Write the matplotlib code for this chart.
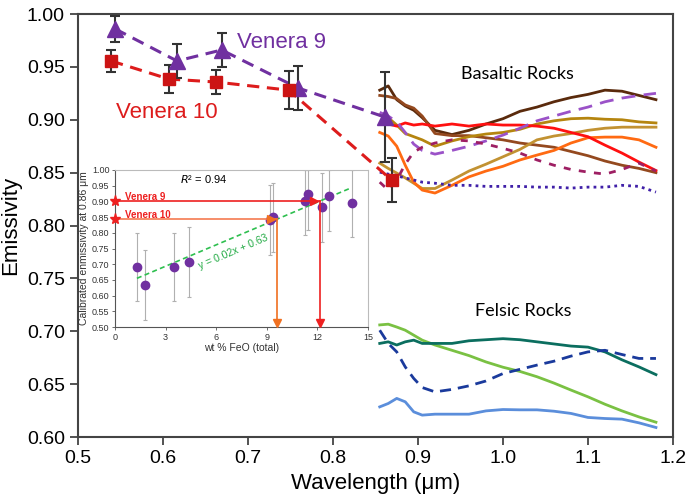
import matplotlib
matplotlib.use('Agg')
import matplotlib.pyplot as plt

plt.rcParams['font.family'] = ['Liberation Sans', 'DejaVu Sans']

# venera measurements
v9_wl = [0.5435, 0.6165, 0.669, 0.759, 0.861]
v9_em = [0.986, 0.9556, 0.966, 0.930, 0.9026]
v9_err = [0.012, 0.016, 0.016, 0.021, 0.043]
v10_wl = [0.539, 0.607, 0.662, 0.748, 0.869]
v10_em = [0.9556, 0.9385, 0.9357, 0.928, 0.843]
v10_err = [0.010, 0.013, 0.011, 0.018, 0.021]

# lab spectra (read at these wavelengths)
wl = [0.855, 0.865, 0.875, 0.885, 0.895, 0.905, 0.92, 0.94, 0.96, 0.98,
      1.00, 1.02, 1.04, 1.06, 1.08, 1.10, 1.12, 1.14, 1.16, 1.18]

dark_brown = [0.928, 0.932, 0.919, 0.913, 0.909, 0.902, 0.890, 0.886, 0.890, 0.896,
              0.901, 0.908, 0.912, 0.917, 0.921, 0.924, 0.928, 0.927, 0.923, 0.919]
sienna = [0.923, 0.922, 0.920, 0.914, 0.911, 0.9035, 0.887, 0.885, 0.885, 0.883,
          0.881, 0.878, 0.876, 0.874, 0.870, 0.866, 0.861, 0.857, 0.854, 0.850]
red = [None, 0.896, 0.894, 0.897, 0.895, 0.896, 0.894, 0.896, 0.894, 0.896,
       0.895, 0.895, 0.894, 0.892, 0.888, 0.884, 0.876, 0.8685, 0.860, 0.852]
purple_dash = [0.907, 0.9035, 0.898, 0.888, 0.877, 0.871, 0.8675, 0.871, 0.875, 0.880,
               0.8855, 0.892, 0.899, 0.9035, 0.908, 0.912, 0.917, 0.9205, 0.923, 0.925]
gold1 = [0.9045, 0.902, 0.895, 0.887, 0.884, 0.881, 0.875, 0.880, 0.884, 0.8865,
         0.888, 0.891, 0.896, 0.899, 0.901, 0.9015, 0.9005, 0.900, 0.898, 0.897]
gold2 = [0.859, 0.854, 0.8496, 0.845, 0.840, 0.835, 0.835, 0.843, 0.8515, 0.858,
         0.865, 0.872, 0.881, 0.8846, 0.887, 0.890, 0.892, 0.893, 0.893, 0.893]
orange = [0.888, 0.8846, 0.875, 0.857, 0.841, 0.8335, 0.8307, 0.838, 0.846, 0.8515,
          0.856, 0.862, 0.8666, 0.871, 0.878, 0.883, 0.8836, 0.8836, 0.881, 0.874]
magenta_dash = [0.841, 0.8335, 0.843, 0.858, 0.8695, 0.874, 0.878, 0.881, 0.880, 0.877,
                0.873, 0.8685, 0.862, 0.857, 0.853, 0.8505, 0.8486, 0.853, 0.859, 0.8515]
blue_dot = [0.8505, 0.8486, 0.847, 0.845, 0.843, 0.841, 0.840, 0.838, 0.838, 0.837,
            0.837, 0.837, 0.8363, 0.8363, 0.8354, 0.8363, 0.8363, 0.838, 0.837, 0.8316]

green = [0.706, 0.7067, 0.704, 0.701, 0.6963, 0.6916, 0.687, 0.682, 0.677, 0.671,
         0.666, 0.662, 0.657, 0.651, 0.6444, 0.638, 0.631, 0.6247, 0.619, 0.614]
teal = [0.6885, 0.690, 0.687, 0.690, 0.6916, 0.6885, 0.6885, 0.6885, 0.691, 0.692,
        0.693, 0.692, 0.690, 0.688, 0.686, 0.685, 0.6805, 0.673, 0.6663, 0.659]
navy_dash = [0.701, 0.6885, 0.6805, 0.6663, 0.6554, 0.6468, 0.6427, 0.645, 0.6484, 0.653,
             0.660, 0.664, 0.668, 0.6717, 0.6765, 0.6805, 0.682, 0.678, 0.6743, 0.6743]
light_blue = [0.6285, 0.6317, 0.6365, 0.6333, 0.6238, 0.6207, 0.6216, 0.6216, 0.6216, 0.6247,
              0.626, 0.6257, 0.6257, 0.6244, 0.6223, 0.6185, 0.6175, 0.6169, 0.6134, 0.609]

# inset data
feo = [1.32, 1.76, 3.49, 4.38, 9.22, 9.39, 11.27, 11.45, 12.28, 12.67, 14.05]
cal_em = [0.690, 0.635, 0.690, 0.707, 0.841, 0.849, 0.901, 0.923, 0.881, 0.918, 0.895]
cal_lo = [0.582, 0.523, 0.582, 0.595, 0.730, 0.738, 0.793, 0.810, 0.770, 0.807, 0.786]
cal_hi = [0.800, 0.744, 0.800, 0.817, 0.952, 0.960, 1.0, 1.0, 0.99, 1.0, 1.0]
trend_x = [1.3, 14.0]
trend_y = [0.655, 0.943]
v9_feo, v9_cal = 12.14, 0.9015
v10_feo, v10_cal = 9.63, 0.844

fig = plt.figure(figsize=(6.86, 4.97), dpi=100)
ax = fig.add_axes([0.1137, 0.1207, 0.8673, 0.8511])

spectra = [
    (dark_brown, '#5a2a0c', '-'),
    (sienna, '#94491f', '-'),
    (gold1, '#b5850f', '-'),
    (gold2, '#c29232', '-'),
    (orange, '#ff6a12', '-'),
    (red, '#ff1010', '-'),
    (purple_dash, '#9b52c8', (0, (5, 3))),
    (magenta_dash, '#9e1f63', (0, (2.5, 3))),
    (blue_dot, '#4020a8', (0, (1, 1.5))),
    (green, '#7ac143', '-'),
    (teal, '#0b6e5f', '-'),
    (navy_dash, '#1a3a9c', (0, (4, 2.5))),
    (light_blue, '#5b8edb', '-'),
]
for vals, col, ls in spectra:
    xs = [w for w, v in zip(wl, vals) if v is not None]
    ys = [v for v in vals if v is not None]
    ax.plot(xs, ys, color=col, ls=ls, lw=2)

ax.plot(v9_wl, v9_em, color='#7030a0', ls=(0, (4, 2.5)), lw=2.2, zorder=4)
ax.plot(v10_wl, v10_em, color='#dd1c1c', ls=(0, (4, 2.5)), lw=2.2, zorder=4)
ax.errorbar(v9_wl, v9_em, yerr=v9_err, fmt='^', color='#7030a0', ms=11,
            ecolor='#333333', elinewidth=1.5, capsize=3.5, capthick=1.5, zorder=5)
ax.errorbar(v10_wl, v10_em, yerr=v10_err, fmt='s', color='#cc1414', ms=9,
            ecolor='#333333', elinewidth=1.5, capsize=3.5, capthick=1.5, zorder=5)

ax.text(0.687, 0.9735, 'Venera 9', color='#7030a0', fontsize=16, va='center')
ax.text(0.545, 0.907, 'Venera 10', color='#dd1c1c', fontsize=16, va='center')
ax.text(1.0165, 0.943, 'Basaltic Rocks', fontsize=13, ha='center', va='center',
        family=['Lato', 'DejaVu Sans'])
ax.text(1.0235, 0.719, 'Felsic Rocks', fontsize=13, ha='center', va='center',
        family=['Lato', 'DejaVu Sans'])

ax.set_xlim(0.5, 1.2)
ax.set_ylim(0.6, 1.0)
ax.set_xticks([0.5, 0.6, 0.7, 0.8, 0.9, 1.0, 1.1, 1.2])
ax.set_yticks([0.60, 0.65, 0.70, 0.75, 0.80, 0.85, 0.90, 0.95, 1.00])
ax.set_yticklabels(['%.2f' % t for t in ax.get_yticks()])
ax.tick_params(labelsize=14, direction='out', length=6, width=1.3, color='#444444')
for s in ax.spines.values():
    s.set_color('#444444')
    s.set_linewidth(1.5)
ax.set_xlabel('Wavelength (\u03bcm)', fontsize=16)
ax.set_ylabel('Emissivity', fontsize=16)

# inset
ins = fig.add_axes([0.1676, 0.342, 0.3688, 0.316])
ins.errorbar(feo, cal_em,
             yerr=[[e - lo for e, lo in zip(cal_em, cal_lo)], [hi - e for e, hi in zip(cal_em, cal_hi)]],
             fmt='none', ecolor='#b0b0b0', elinewidth=0.8, capsize=1.5, capthick=0.8)
ins.plot(trend_x, trend_y, color='#2ebf4f', ls=(0, (3, 2)), lw=1.2)
ins.plot(feo, cal_em, 'o', color='#7030a0', ms=6, zorder=5)

ins.plot([0, v9_feo], [v9_cal, v9_cal], color='#ee2020', lw=1.2, zorder=6)
ins.plot([v9_feo, v9_feo], [v9_cal, 0.51], color='#ee2020', lw=1.2, zorder=6)
ins.plot([v9_feo - 0.35], [v9_cal], '>', color='#ee2020', ms=6, zorder=7)
ins.plot([v9_feo], [0.512], 'v', color='#ee2020', ms=6, zorder=7, clip_on=False)
ins.plot([0, v10_feo], [v10_cal, v10_cal], color='#f57a50', lw=1.2, zorder=6)
ins.plot([v10_feo, v10_feo], [v10_cal, 0.51], color='#f07020', lw=1.2, zorder=6)
ins.plot([v10_feo - 0.35], [v10_cal], '>', color='#f07020', ms=6, zorder=7)
ins.plot([v10_feo], [0.512], 'v', color='#f07020', ms=6, zorder=7, clip_on=False)
ins.plot([0, 0], [v9_cal, v10_cal], '*', color='#ee2020', ms=8, clip_on=False, zorder=8)

ins.text(0.6, 0.915, 'Venera 9', color='#ee2020', fontsize=7, fontweight='bold', va='center')
ins.text(0.6, 0.858, 'Venera 10', color='#ee2020', fontsize=7, fontweight='bold', va='center')
ins.text(5.25, 0.971, r'$R$' + '\u00b2 = 0.94', fontsize=8, ha='center', va='center')
ins.text(7.0, 0.738, 'y = 0.02x + 0.63', color='#22aa44', fontsize=7.5,
         ha='center', va='center', rotation=23)

ins.set_xlim(0, 15)
ins.set_ylim(0.5, 1.0)
ins.set_xticks([0, 3, 6, 9, 12, 15])
yt = [0.50, 0.55, 0.60, 0.65, 0.70, 0.75, 0.80, 0.85, 0.90, 0.95, 1.00]
ins.set_yticks(yt)
ins.set_yticklabels(['%.2f' % t for t in yt])
ins.tick_params(labelsize=6.5, length=2.5, width=0.6, pad=1.5, color='#555555', labelcolor='#333333')
for side in ['left', 'bottom']:
    ins.spines[side].set_color('#555555')
    ins.spines[side].set_linewidth(0.8)
for side in ['top', 'right']:
    ins.spines[side].set_color('#bbbbbb')
    ins.spines[side].set_linewidth(0.8)
ins.set_xlabel('wt % FeO (total)', fontsize=7.5, labelpad=1, color='#333333')
ins.set_ylabel('Calibrated enmissivity at 0.86 \u03bcm', fontsize=7.5, labelpad=2, color='#333333')

fig.savefig('out.png', dpi=100)
